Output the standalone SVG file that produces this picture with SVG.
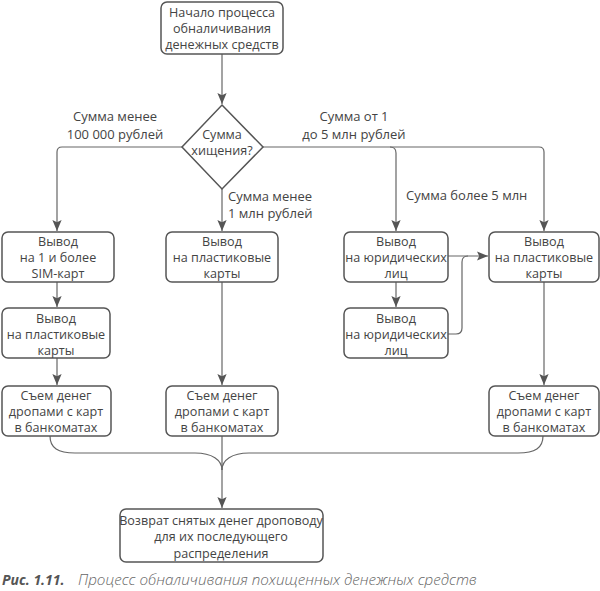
<svg xmlns="http://www.w3.org/2000/svg" width="600" height="591" viewBox="0 0 600 591">
<style>
.box{fill:#fff;stroke:#555;stroke-width:1.5}
.t{font-family:"Open Sans","Noto Sans",sans-serif;font-size:12.6px;fill:#444;text-anchor:middle}
.lc{font-family:"Open Sans","Noto Sans",sans-serif;font-size:13px;fill:#444;text-anchor:middle}
.l{font-family:"Open Sans","Noto Sans",sans-serif;font-size:13px;fill:#444}
.c{fill:none;stroke:#666;stroke-width:1.2}
.cap{font-family:"Open Sans","Noto Sans",sans-serif;font-style:italic;fill:#666}
</style>
<defs>
<marker id="ar" viewBox="0 0 10 10" refX="10" refY="5" markerWidth="11" markerHeight="11" markerUnits="userSpaceOnUse" orient="auto">
<path d="M0,0.8 L10,5 L0,9.2 L2,5 Z" fill="#555"/>
</marker>
</defs>
<rect width="600" height="591" fill="#fff"/>
<g id="connectors">
<path class="c" d="M222,54 V104" marker-end="url(#ar)"/>
<path class="c" d="M182,147 H62 Q57,147 57,152 V231" marker-end="url(#ar)"/>
<path class="c" d="M222,189 V231" marker-end="url(#ar)"/>
<path class="c" d="M263,147 H539 Q544,147 544,152 V231" marker-end="url(#ar)"/>
<path class="c" d="M390,147 Q396,147 396,153 V231" marker-end="url(#ar)"/>
<path class="c" d="M57,282 V307" marker-end="url(#ar)"/>
<path class="c" d="M57,358 V385" marker-end="url(#ar)"/>
<path class="c" d="M222,282 V385" marker-end="url(#ar)"/>
<path class="c" d="M544,282 V385" marker-end="url(#ar)"/>
<path class="c" d="M396,282 V307" marker-end="url(#ar)"/>
<path class="c" d="M448,256 H488" marker-end="url(#ar)"/>
<path class="c" d="M448,334 H456 Q462,334 462,328 V262 Q462,256 468,256"/>
<path class="c" d="M50,436 C50,448 58,453 75,453 H195 C212,453 222,460 222,470"/>
<path class="c" d="M543,436 C543,448 535,453 518,453 H249 C232,453 222,460 222,470"/>
<path class="c" d="M222,436 V508" marker-end="url(#ar)"/>
</g>
<g id="n_start"><rect class="box" x="161" y="2" width="122" height="52" rx="6"/>
<text class="t" x="222" y="17">Начало процесса</text><text class="t" x="222" y="33">обналичивания</text><text class="t" x="222" y="49">денежных средств</text></g>
<g id="n_dec"><path class="box" d="M222,105 L263,147 L222,189 L182,147 Z"/>
<text class="t" x="222" y="139">Сумма</text><text class="t" x="222" y="155">хищения?</text></g>
<g id="labels">
<text class="lc" x="115" y="121">Сумма менее</text><text class="lc" x="115" y="139">100 000 рублей</text>
<text class="lc" x="354" y="121">Сумма от 1</text><text class="lc" x="354" y="139">до 5 млн рублей</text>
<text class="l" x="228" y="201">Сумма менее</text><text class="l" x="228" y="218">1 млн рублей</text>
<text class="l" x="406" y="200">Сумма более 5 млн</text>
</g>
<g id="n_sim"><rect class="box" x="2" y="232" width="112" height="50" rx="6"/>
<text class="t" x="58" y="246">Вывод</text><text class="t" x="58" y="262">на 1 и более</text><text class="t" x="58" y="278">SIM-карт</text></g>
<g id="n_card_mid"><rect class="box" x="166" y="232" width="112" height="50" rx="6"/>
<text class="t" x="222" y="246">Вывод</text><text class="t" x="222" y="262">на пластиковые</text><text class="t" x="222" y="278">карты</text></g>
<g id="n_jur1"><rect class="box" x="344" y="232" width="104" height="50" rx="6"/>
<text class="t" x="396" y="246">Вывод</text><text class="t" x="396" y="262">на юридических</text><text class="t" x="396" y="278">лиц</text></g>
<g id="n_card_right"><rect class="box" x="489" y="232" width="110" height="50" rx="6"/>
<text class="t" x="544" y="246">Вывод</text><text class="t" x="544" y="262">на пластиковые</text><text class="t" x="544" y="278">карты</text></g>
<g id="n_card_left"><rect class="box" x="2" y="308" width="108" height="50" rx="6"/>
<text class="t" x="56" y="323">Вывод</text><text class="t" x="56" y="339">на пластиковые</text><text class="t" x="56" y="355">карты</text></g>
<g id="n_jur2"><rect class="box" x="344" y="308" width="104" height="50" rx="6"/>
<text class="t" x="396" y="323">Вывод</text><text class="t" x="396" y="339">на юридических</text><text class="t" x="396" y="355">лиц</text></g>
<g id="n_atm_left"><rect class="box" x="2" y="386" width="109" height="50" rx="6"/>
<text class="t" x="56" y="400">Съем денег</text><text class="t" x="56" y="416">дропами с карт</text><text class="t" x="56" y="432">в банкоматах</text></g>
<g id="n_atm_mid"><rect class="box" x="166" y="386" width="112" height="50" rx="6"/>
<text class="t" x="222" y="400">Съем денег</text><text class="t" x="222" y="416">дропами с карт</text><text class="t" x="222" y="432">в банкоматах</text></g>
<g id="n_atm_right"><rect class="box" x="489" y="386" width="110" height="50" rx="6"/>
<text class="t" x="544" y="400">Съем денег</text><text class="t" x="544" y="416">дропами с карт</text><text class="t" x="544" y="432">в банкоматах</text></g>
<g id="n_return"><rect class="box" x="120" y="509" width="203" height="53" rx="6"/>
<text class="t" x="221" y="525">Возврат снятых денег дроповоду</text><text class="t" x="221" y="541">для их последующего</text><text class="t" x="221" y="558">распределения</text></g>
<text class="cap" x="2" y="585"><tspan font-size="14px" font-weight="bold" fill="#555">Рис. 1.11.</tspan><tspan x="78" font-size="15.2px" font-weight="300">Процесс обналичивания похищенных денежных средств</tspan></text>
</svg>
